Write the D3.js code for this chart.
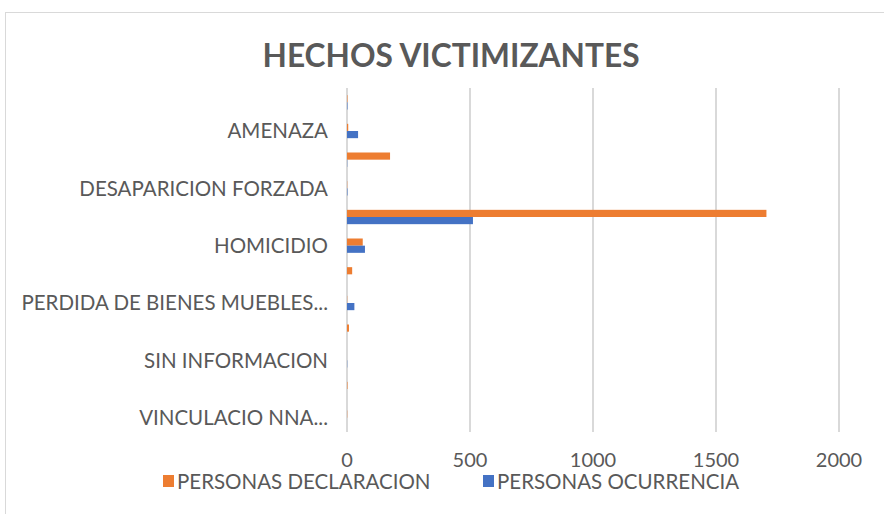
<!DOCTYPE html>
<html>
<head>
<meta charset="utf-8">
<script src="https://cdn.jsdelivr.net/npm/d3@7"></script>
<style>
  body { margin: 0; background: #fff; }
  text { font-family: Lato, "Open Sans", sans-serif; fill: #595959; }
</style>
</head>
<body>
<svg id="chart" width="884" height="514"></svg>
<script>
// categories, top to bottom
const categories = [
  'ACTO TERRORISTA', 'AMENAZA', 'DELITOS CONTRA LA LIBERTAD SEXUAL', 'DESAPARICION FORZADA',
  'DESPLAZAMIENTO', 'HOMICIDIO', 'LESIONES PERSONALES', 'PERDIDA DE BIENES MUEBLES O INMUEBLES',
  'SECUESTRO', 'SIN INFORMACION', 'TORTURA', 'VINCULACIO NNA A GRUPOS ARMADOS'
];
// label text as the axis shows it (every other category)
const tickLabels = [
  '', 'AMENAZA', '', 'DESAPARICION FORZADA', '', 'HOMICIDIO', '',
  'PERDIDA DE BIENES MUEBLES...', '', 'SIN INFORMACION', '', 'VINCULACIO NNA...'
];
const seriesNames = ['PERSONAS DECLARACION', 'PERSONAS OCURRENCIA'];
const declaracion = [2, 5, 175, 1, 1705, 64, 21, 1, 8, 0, 2, 1];
const ocurrencia = [2, 45, 1, 2, 512, 73, 0, 30, 0, 1, 0, 0];
const xTicks = [0, 500, 1000, 1500, 2000];

const colors = ['#ED7D31', '#4472C4'];
const series = [declaracion, ocurrencia];

const svg = d3.select('#chart');

/* Chart border */
svg.append('rect')
    .attr('x', 5.5).attr('y', 12.5)
    .attr('width', 890).attr('height', 520)
    .attr('fill', 'none')
    .attr('stroke', '#d9d9d9');

/* Title */
svg.append('text')
    .attr('x', 451).attr('y', 67)
    .attr('text-anchor', 'middle')
    .attr('font-size', 32)
    .attr('font-weight', 'bold')
    .attr('textLength', 377)
    .attr('lengthAdjust', 'spacingAndGlyphs')
    .text('HECHOS VICTIMIZANTES');

const x = d3.scaleLinear().domain([0, 2000]).range([347, 839]);
const y = d3.scaleBand().domain(categories).range([88, 432])
    .paddingInner(0.5).paddingOuter(0.25);
const ySub = d3.scaleBand().domain([0, 1]).range([0, y.bandwidth()]);

/* Grid lines */
svg.append('g')
    .attr('class', 'x-grid-lines')
    .selectAll('line')
    .data(xTicks)
    .join('line')
    .attr('x1', d => x(d)).attr('x2', d => x(d))
    .attr('y1', 88).attr('y2', 432)
    .attr('stroke', '#d9d9d9')
    .attr('stroke-width', 2);

/* X tick labels */
svg.append('g')
    .attr('class', 'x-tick-marks')
    .selectAll('text')
    .data(xTicks)
    .join('text')
    .attr('x', d => x(d))
    .attr('y', 467)
    .attr('text-anchor', 'middle')
    .attr('font-size', 20)
    .text(d => d);

/* Category labels */
svg.append('g')
    .attr('class', 'y-tick-marks')
    .selectAll('text')
    .data(categories)
    .join('text')
    .attr('x', 328)
    .attr('y', d => y(d) + y.bandwidth() / 2)
    .attr('dy', '0.36em')
    .attr('text-anchor', 'end')
    .attr('font-size', 20.5)
    .text((d, i) => tickLabels[i]);

/* Bars */
const dataContainer = svg.append('g').attr('class', 'data-container-group');
series.forEach((vals, s) => {
  dataContainer.append('g')
      .selectAll('rect')
      .data(vals)
      .join('rect')
      .attr('x', x(0))
      .attr('y', (d, i) => y(categories[i]) + ySub(s))
      .attr('width', d => x(d) - x(0))
      .attr('height', ySub.bandwidth())
      .attr('fill', colors[s]);
});

/* Legend */
const legendX = [163, 483];
const legend = svg.append('g').attr('class', 'legend');
seriesNames.forEach((name, s) => {
  legend.append('rect')
      .attr('x', legendX[s]).attr('y', 475)
      .attr('width', 11).attr('height', 12)
      .attr('fill', colors[s]);
  legend.append('text')
      .attr('x', legendX[s] + 14).attr('y', 482)
      .attr('dy', '0.36em')
      .attr('font-size', 20.5)
      .text(name);
});
</script>
</body>
</html>
